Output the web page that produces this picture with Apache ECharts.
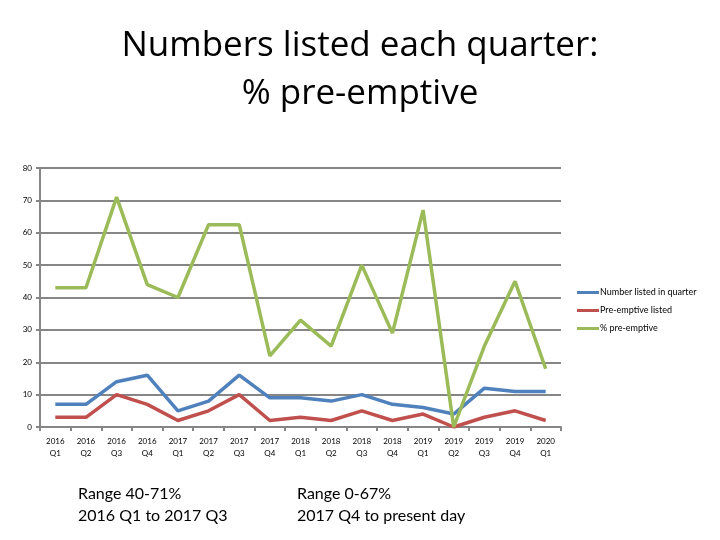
<!DOCTYPE html>
<html>
<head>
<meta charset="utf-8">
<script src="https://cdn.jsdelivr.net/npm/echarts@6/dist/echarts.min.js"></script>
<style>
  html, body { margin: 0; padding: 0; background: #fff; }
  #chart { width: 720px; height: 540px; }
</style>
</head>
<body>
<div id="chart"></div>
<script>
const quarters = ['2016\nQ1', '2016\nQ2', '2016\nQ3', '2016\nQ4', '2017\nQ1', '2017\nQ2', '2017\nQ3', '2017\nQ4',
  '2018\nQ1', '2018\nQ2', '2018\nQ3', '2018\nQ4', '2019\nQ1', '2019\nQ2', '2019\nQ3', '2019\nQ4', '2020\nQ1']
const numberListed = [7, 7, 14, 16, 5, 8, 16, 9, 9, 8, 10, 7, 6, 4, 12, 11, 11]
const preEmptive = [3, 3, 10, 7, 2, 5, 10, 2, 3, 2, 5, 2, 4, 0, 3, 5, 2]
const pctPreEmptive = [43, 43, 71, 44, 40, 62.5, 62.5, 22, 33, 25, 50, 29, 67, 0, 25, 45, 18]

const chart = echarts.init(document.getElementById('chart'))
const font = 'Lato, "Open Sans", sans-serif'

chart.setOption({
  animation: false,
  backgroundColor: '#fff',
  title: [
    {
      text: 'Numbers listed each quarter:\n% pre-emptive',
      left: 'center',
      top: 22,
      padding: 0,
      textStyle: { fontFamily: '"Open Sans", sans-serif', fontSize: 35, fontWeight: 'normal', color: '#000', lineHeight: 48 },
    },
    {
      text: 'Range 40-71%\n2016 Q1 to 2017 Q3',
      left: 78,
      top: 483,
      padding: 0,
      textStyle: { fontFamily: font, fontSize: 16, fontWeight: 'normal', color: '#000', lineHeight: 22 },
    },
    {
      text: 'Range 0-67%\n2017 Q4 to present day',
      left: 297,
      top: 483,
      padding: 0,
      textStyle: { fontFamily: font, fontSize: 16, fontWeight: 'normal', color: '#000', lineHeight: 22 },
    },
  ],
  legend: {
    orient: 'vertical',
    left: 577,
    top: 287,
    padding: 0,
    itemWidth: 22,
    itemHeight: 3,
    itemGap: 7,
    icon: 'rect',
    textStyle: { fontFamily: font, fontSize: 9, color: '#000', lineHeight: 11, padding: [0, 0, 0, -4] },
    data: ['Number listed in quarter', 'Pre-emptive listed', '% pre-emptive'],
  },
  grid: { left: 40, right: 159, top: 168, bottom: 113 },
  xAxis: {
    type: 'category',
    data: quarters,
    boundaryGap: true,
    axisLine: { lineStyle: { color: '#868686', width: 2 } },
    axisTick: { show: true, length: 4, lineStyle: { color: '#868686', width: 2 } },
    axisLabel: { fontFamily: font, fontSize: 8, color: '#000', lineHeight: 12, margin: 8, interval: 0 },
  },
  yAxis: {
    type: 'value',
    min: 0,
    max: 80,
    interval: 10,
    axisLine: { show: true, lineStyle: { color: '#868686', width: 2 } },
    axisTick: { show: true, length: 4, lineStyle: { color: '#868686', width: 2 } },
    axisLabel: { fontFamily: font, fontSize: 8, color: '#000', margin: 8 },
    splitLine: { lineStyle: { color: '#868686', width: 2 } },
  },
  series: [
    {
      name: 'Number listed in quarter',
      type: 'line',
      data: numberListed,
      showSymbol: false,
      color: '#4F81BD',
      lineStyle: { width: 3.5 },
    },
    {
      name: 'Pre-emptive listed',
      type: 'line',
      data: preEmptive,
      showSymbol: false,
      color: '#C0504D',
      lineStyle: { width: 3.5 },
    },
    {
      name: '% pre-emptive',
      type: 'line',
      data: pctPreEmptive,
      showSymbol: false,
      color: '#9BBB59',
      lineStyle: { width: 3.5 },
    },
  ],
})
</script>
</body>
</html>
